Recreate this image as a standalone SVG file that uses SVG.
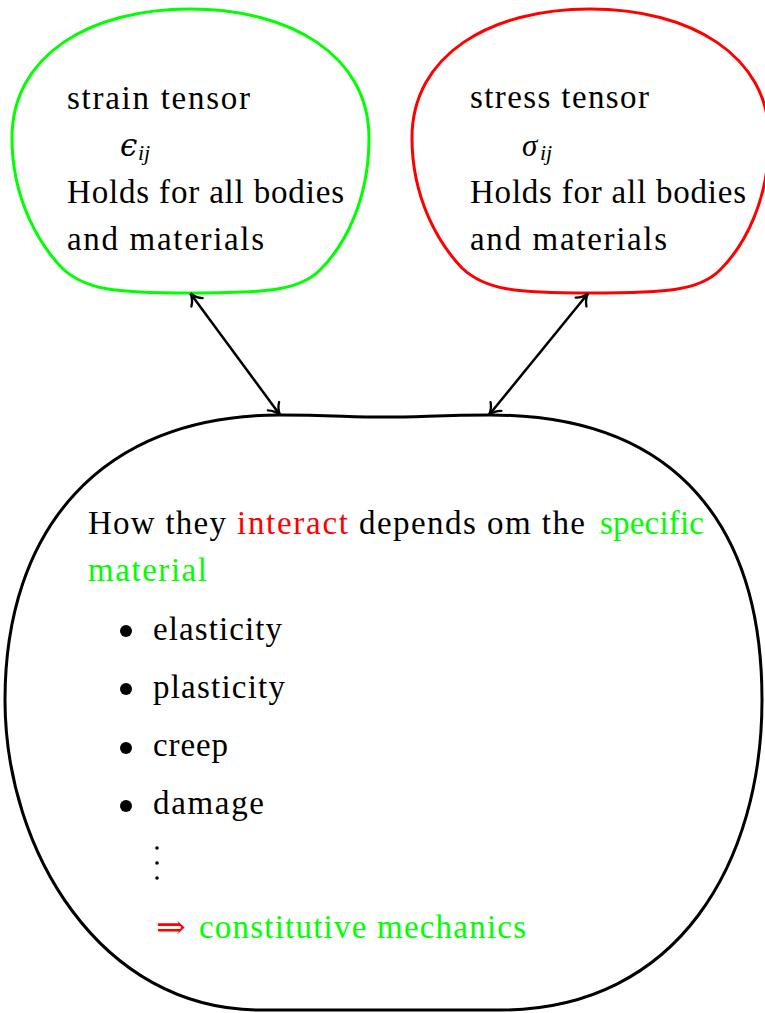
<svg xmlns="http://www.w3.org/2000/svg" width="765" height="1013" viewBox="0 0 765 1013">
<defs>
<style>
text{font-family:'Liberation Serif','DejaVu Serif',serif}
.t{font-size:33px;fill:#000}
.m{font-style:italic;font-size:31px;fill:#000}
.s{font-style:italic;font-size:22px;fill:#000}
.red{fill:#ff0000}
.grn{fill:#00ff00}
.blob{fill:none;stroke-width:3}
.conn{fill:none;stroke:#000;stroke-width:2.5;marker-start:url(#tip);marker-end:url(#tip)}
</style>
<path id="blobshape" d="M 190 9 C 290 9, 369 55, 369 138 C 369 200, 345 245, 320 270 C 300 290, 270 293, 190 293 C 115 293, 85 290, 62 268 C 40 245, 12 200, 12 138 C 12 55, 90 9, 190 9 Z"/>
<marker id="tip" viewBox="-14 -9 16 18" refX="0" refY="0" markerWidth="16" markerHeight="18" markerUnits="userSpaceOnUse" orient="auto-start-reverse">
<path d="M -11 -7 C -8 -3.2, -3.2 -0.8, 0 0 C -3.2 0.8, -8 3.2, -11 7" fill="none" stroke="#000" stroke-width="2.3" stroke-linecap="round"/>
</marker>
</defs>
<rect width="765" height="1013" fill="#fff"/>

<g id="strain">
<use href="#blobshape" class="blob" stroke="#00ff00"/>
<text class="t" x="67" y="109" textLength="183" lengthAdjust="spacing">strain tensor</text>
<text class="m" x="120" y="156" style="font-family:'DejaVu Serif',serif">ϵ</text>
<text class="s" x="138" y="160">ij</text>
<text class="t" x="67" y="203" textLength="277" lengthAdjust="spacing">Holds for all bodies</text>
<text class="t" x="67" y="250" textLength="197" lengthAdjust="spacing">and materials</text>
</g>

<g id="stress">
<use href="#blobshape" class="blob" stroke="#ff0000" transform="translate(400,0)"/>
<text class="t" x="470" y="108" textLength="179" lengthAdjust="spacing">stress tensor</text>
<text class="m" x="522" y="156">σ</text>
<text class="s" x="540" y="160">ij</text>
<text class="t" x="470" y="203" textLength="276" lengthAdjust="spacing">Holds for all bodies</text>
<text class="t" x="470" y="250" textLength="197" lengthAdjust="spacing">and materials</text>
</g>

<g id="constitutive">
<path class="blob" stroke="#000" d="M 280 415 C 330 415, 350 417, 385 417 C 420 417, 440 415, 490 415 C 680 415, 762 530, 762 700 C 762 860, 680 1010, 500 1010 L 260 1010 C 100 1010, 5 850, 5 700 C 5 530, 100 415, 280 415 Z"/>
<text class="t" x="88" y="534" textLength="138" lengthAdjust="spacing">How they</text>
<text class="t red" x="237" y="534" textLength="111" lengthAdjust="spacing">interact</text>
<text class="t" x="359" y="534" textLength="226" lengthAdjust="spacing">depends om the</text>
<text class="t grn" x="600" y="534" textLength="104" lengthAdjust="spacing">specific</text>
<text class="t grn" x="88" y="581" textLength="119" lengthAdjust="spacing">material</text>
<circle cx="126" cy="631" r="6"/>
<text class="t" x="153" y="640" textLength="129" lengthAdjust="spacing">elasticity</text>
<circle cx="126" cy="689" r="6"/>
<text class="t" x="153" y="698" textLength="132" lengthAdjust="spacing">plasticity</text>
<circle cx="126" cy="748" r="6"/>
<text class="t" x="153" y="756" textLength="75" lengthAdjust="spacing">creep</text>
<circle cx="126" cy="806" r="6"/>
<text class="t" x="153" y="814" textLength="111" lengthAdjust="spacing">damage</text>
<circle cx="157" cy="848" r="1.8"/>
<circle cx="157" cy="863" r="1.8"/>
<circle cx="157" cy="878" r="1.8"/>
<text class="t red" x="156" y="938" style="font-family:'DejaVu Serif',serif" textLength="30" lengthAdjust="spacingAndGlyphs">⇒</text>
<text class="t grn" x="199" y="938" textLength="327" lengthAdjust="spacing">constitutive mechanics</text>
</g>

<g id="connectors">
<line class="conn" x1="190.5" y1="293.5" x2="280" y2="415"/>
<line class="conn" x1="588" y1="293.5" x2="489" y2="415"/>
</g>
</svg>
